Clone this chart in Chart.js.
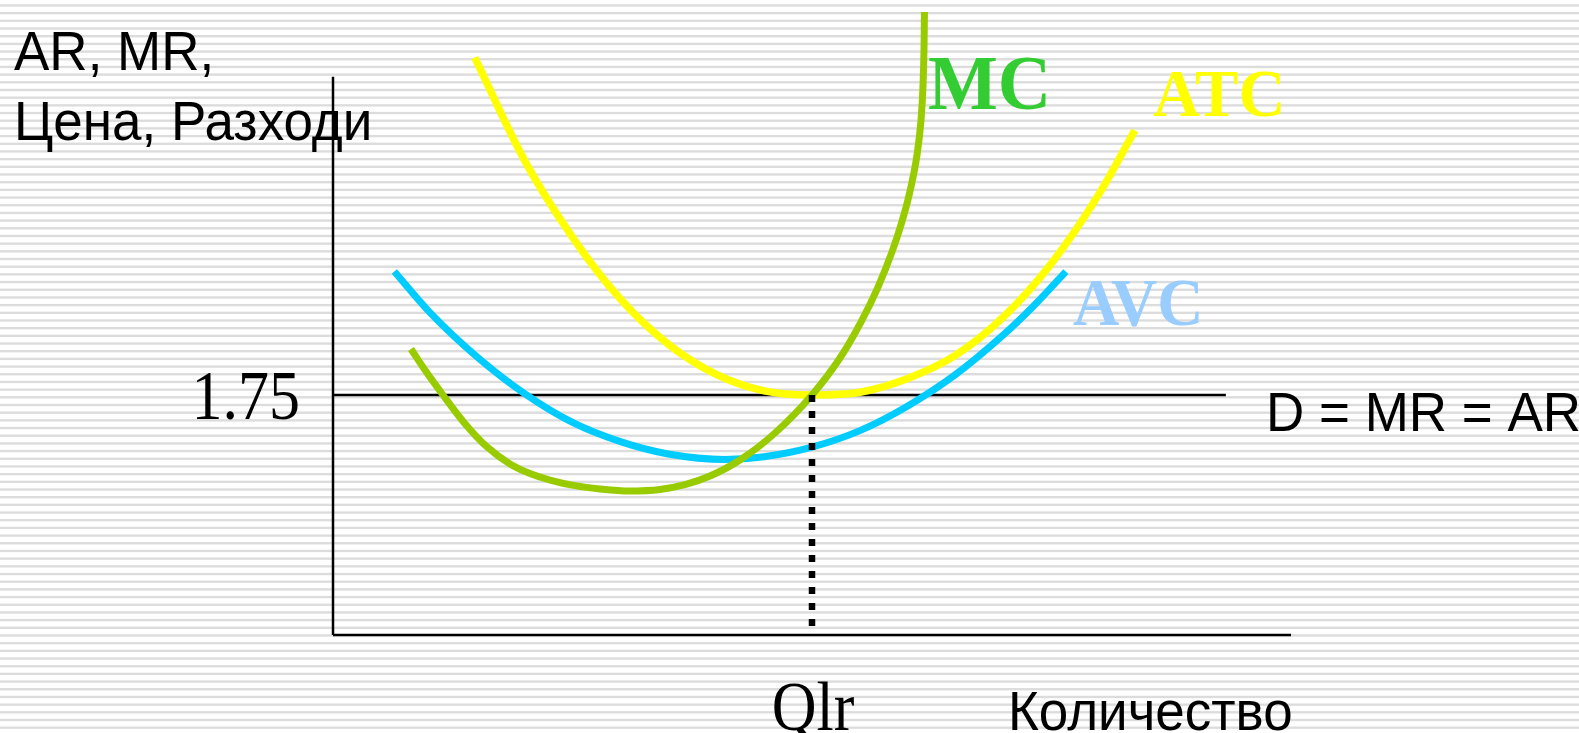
<!DOCTYPE html>
<html>
<head>
<meta charset="utf-8">
<title>Краткосрочно равновесие на фирмата</title>
<script src="https://cdn.jsdelivr.net/npm/chart.js@4.4.1/dist/chart.umd.min.js"></script>
<style>
  html, body { margin: 0; padding: 0; background: #ffffff; }
  canvas { display: block; }
</style>
</head>
<body>
<canvas id="chart" width="1579" height="733"></canvas>
<script>
// Quantity (x) and price / cost (y) readings for each curve.
const mcQ  = [0.814, 0.960, 1.148, 1.378, 1.608, 1.848, 2.056, 2.265, 2.526, 2.787, 3.090, 3.413, 3.674, 3.935, 4.248, 4.614, 5.000, 5.292, 5.511, 5.689, 5.835, 5.950, 6.033, 6.096, 6.138, 6.159, 6.169, 6.174];
const mcP  = [2.085, 1.932, 1.750, 1.541, 1.371, 1.247, 1.177, 1.130, 1.089, 1.065, 1.050, 1.061, 1.096, 1.159, 1.276, 1.473, 1.750, 2.020, 2.282, 2.537, 2.793, 3.040, 3.267, 3.500, 3.755, 4.010, 4.265, 4.542];

const atcQ = [1.48, 2.00, 2.50, 3.00, 3.50, 4.00, 4.50, 5.00, 5.50, 6.00, 6.50, 7.00, 7.50, 8.00, 8.37];
const atcP = [4.21, 3.46, 2.90, 2.45, 2.12, 1.90, 1.78, 1.75, 1.77, 1.87, 2.04, 2.32, 2.71, 3.22, 3.68];

const avcQ = [0.64, 1.00, 1.50, 2.00, 2.50, 3.00, 3.50, 4.09, 4.50, 5.00, 5.50, 6.00, 6.50, 7.00, 7.30, 7.65];
const avcP = [2.65, 2.36, 2.03, 1.76, 1.55, 1.41, 1.32, 1.28, 1.30, 1.37, 1.49, 1.67, 1.90, 2.19, 2.39, 2.65];

// Market price (horizontal demand line) and long-run quantity.
const priceLevel = 1.75;
const priceTickLabels = ['1.75'];
const qlr = 5;
const quantityTickLabels = ['Qlr'];
const demandEndQ = 9.32;

// Axis extents.
const qMax = 10;
const pMax = 4.63;
const pAxisTop = 4.07;

const curveLabels = ['MC', 'ATC', 'AVC'];
const priceAxisTitle = ['AR, MR,', 'Цена, Разходи'];
const quantityAxisTitle = 'Количество';
const demandLabel = 'D = MR = AR';

const toPoints = (xs, ys) => xs.map((x, i) => ({ x: x, y: ys[i] }));

// Horizontal ruled-paper background.
const stripes = {
  id: 'stripes',
  beforeDraw(chart) {
    const ctx = chart.ctx;
    ctx.save();
    ctx.fillStyle = '#ffffff';
    ctx.fillRect(0, 0, chart.width, chart.height);
    ctx.fillStyle = '#dcdcdc';
    const period = 7.683;
    for (let y = 4.3; y < chart.height; y += period) {
      ctx.fillRect(0, y, chart.width, 2.35);
    }
    ctx.restore();
  }
};

function drawText(ctx, text, x, y, font, color, align, sy) {
  ctx.save();
  ctx.translate(x, y);
  ctx.scale(1, sy);
  ctx.font = font;
  ctx.fillStyle = color;
  ctx.textAlign = align;
  ctx.textBaseline = 'alphabetic';
  ctx.fillText(text, 0, 0);
  ctx.restore();
}

// Axis titles, tick labels and curve names.
const annotations = {
  id: 'annotations',
  beforeDatasetsDraw(chart) {
    const ctx = chart.ctx;
    const xs = chart.scales.x, ys = chart.scales.y;
    const sans = '53px "Liberation Sans", Arial, sans-serif';
    const serif = (size, bold) => (bold ? 'bold ' : '') + size + 'px "Liberation Serif", "Times New Roman", serif';

    drawText(ctx, priceAxisTitle[0], 14, 70, sans, '#000000', 'left', 1.03);
    drawText(ctx, priceAxisTitle[1], 14, 140, sans, '#000000', 'left', 1.04);
    drawText(ctx, quantityAxisTitle, 1008, 730, sans, '#000000', 'left', 1.04);
    drawText(ctx, demandLabel, 1266, 431, sans, '#000000', 'left', 1.05);

    const yPrice = ys.getPixelForValue(priceLevel);
    drawText(ctx, priceTickLabels[0], 300, yPrice + 24, serif(62), '#000000', 'right', 1.12);
    drawText(ctx, quantityTickLabels[0], xs.getPixelForValue(qlr) + 1, 730, serif(62), '#000000', 'center', 1.12);

    drawText(ctx, curveLabels[0], 928, 109, serif(74, true), '#33cc33', 'left', 1.05);
    drawText(ctx, curveLabels[1], 1153, 116, serif(65, true), '#ffff00', 'left', 1.04);
    drawText(ctx, curveLabels[2], 1073, 325, serif(64, true), '#99ccff', 'left', 1.06);
  }
};

const base = { pointRadius: 0, pointHoverRadius: 0, fill: false, clip: false, borderCapStyle: 'butt' };

new Chart(document.getElementById('chart'), {
  type: 'line',
  data: {
    datasets: [
      Object.assign({}, base, {
        label: 'Qlr',
        data: [{ x: qlr, y: priceLevel }, { x: qlr, y: 0.04 }],
        borderColor: '#000000', borderWidth: 6.5, borderDash: [7, 9], order: 0
      }),
      Object.assign({}, base, {
        label: curveLabels[0],
        data: toPoints(mcQ, mcP),
        borderColor: '#99cc00', borderWidth: 7, cubicInterpolationMode: 'monotone', order: 1
      }),
      Object.assign({}, base, {
        label: curveLabels[2],
        data: toPoints(avcQ, avcP),
        borderColor: '#00ccff', borderWidth: 7, cubicInterpolationMode: 'monotone', order: 2
      }),
      Object.assign({}, base, {
        label: curveLabels[1],
        data: toPoints(atcQ, atcP),
        borderColor: '#ffff00', borderWidth: 7.5, cubicInterpolationMode: 'monotone', order: 3
      }),
      Object.assign({}, base, {
        label: demandLabel,
        data: [{ x: 0, y: priceLevel }, { x: demandEndQ, y: priceLevel }],
        borderColor: '#000000', borderWidth: 2.5, order: 4
      }),
      Object.assign({}, base, {
        label: 'price axis',
        data: [{ x: 0, y: 0 }, { x: 0, y: pAxisTop }],
        borderColor: '#000000', borderWidth: 2.5, order: 5
      }),
      Object.assign({}, base, {
        label: 'quantity axis',
        data: [{ x: 0, y: 0 }, { x: qMax, y: 0 }],
        borderColor: '#000000', borderWidth: 2.5, order: 6
      })
    ]
  },
  options: {
    responsive: false,
    animation: false,
    devicePixelRatio: 1,
    layout: { padding: { left: 333, right: 288, top: 0, bottom: 98 } },
    scales: {
      x: { type: 'linear', min: 0, max: qMax, display: false },
      y: { type: 'linear', min: 0, max: pMax, display: false }
    },
    plugins: {
      legend: { display: false },
      tooltip: { enabled: false }
    }
  },
  plugins: [stripes, annotations]
});
</script>
</body>
</html>
